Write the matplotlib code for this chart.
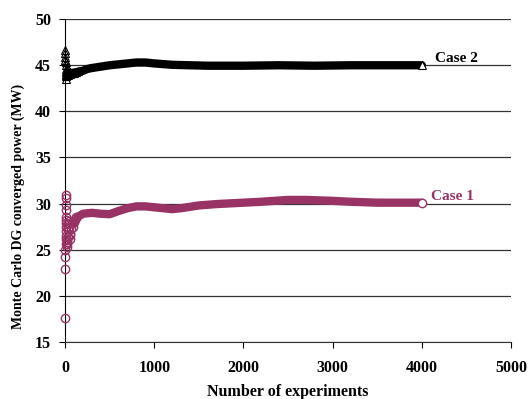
import matplotlib
matplotlib.use("Agg")
import matplotlib.pyplot as plt

plt.rcParams['font.family'] = ['Liberation Serif', 'DejaVu Serif']
plt.rcParams['font.weight'] = 'bold'

PLUM = '#993366'

# Case 1: scattered early estimates, then the converging band
c1_early_x = [1, 2, 3, 4, 5, 6, 7, 8, 9, 10, 11, 12, 13, 14, 15, 16, 18, 20, 22, 25,
              28, 30, 35, 40, 45, 50, 55, 60, 70, 80, 90, 100, 110, 120]
c1_early_y = [17.6, 22.9, 24.2, 25.0, 25.6, 26.2, 30.9, 30.6, 29.8, 29.3, 28.6, 28.2,
              27.9, 27.5, 27.0, 26.5, 26.0, 25.6, 25.3, 25.8, 26.4, 27.2, 27.8, 28.1,
              27.4, 26.7, 26.2, 26.6, 27.3, 27.9, 27.5, 28.0, 28.3, 28.6]
c1_band_x = [100, 150, 200, 300, 400, 500, 600, 700, 800, 900, 1000, 1100, 1200, 1300,
             1500, 1700, 2000, 2200, 2500, 2700, 3000, 3200, 3500, 3700, 4000]
c1_band_y = [27.8, 28.6, 28.9, 29.0, 28.9, 28.85, 29.2, 29.5, 29.7, 29.7, 29.6, 29.5,
             29.4, 29.5, 29.8, 29.95, 30.1, 30.2, 30.4, 30.4, 30.3, 30.2, 30.1, 30.1, 30.1]

# Case 2
c2_early_x = [1, 2, 3, 4, 5, 6, 7, 8, 9, 10, 12, 14, 16, 18, 20, 25, 30, 40, 50, 60,
              80, 100, 120, 150]
c2_early_y = [46.7, 46.3, 45.9, 45.6, 45.3, 45.0, 44.6, 44.3, 43.9, 43.5, 43.8, 44.0,
              44.4, 44.1, 44.6, 44.2, 43.9, 44.1, 44.3, 44.0, 44.2, 44.2, 44.3, 44.4]
c2_band_x = [20, 100, 150, 200, 250, 300, 400, 500, 600, 700, 800, 900, 1000, 1200,
             1400, 1600, 1800, 2000, 2400, 2800, 3200, 3600, 4000]
c2_band_y = [44.1, 44.2, 44.3, 44.4, 44.6, 44.7, 44.85, 45.0, 45.1, 45.2, 45.3, 45.3,
             45.2, 45.05, 45.0, 44.95, 44.95, 44.95, 45.0, 44.95, 45.0, 45.0, 45.0]

fig = plt.figure(figsize=(5.29, 3.99), dpi=100)
ax = fig.add_axes([0.123, 0.143, 0.843, 0.809])

# bands (dense overlapping markers in the original)
ax.plot(c1_band_x, c1_band_y, color=PLUM, lw=6.0, solid_capstyle='round', zorder=3)
ax.plot(c2_band_x, c2_band_y, color='black', lw=6.0, solid_capstyle='round', zorder=3)

# early scattered estimates
ax.plot(c1_early_x, c1_early_y, 'o', ms=6, mfc='none', mec=PLUM, mew=1.0,
        clip_on=False, zorder=4)
ax.plot(c2_early_x, c2_early_y, '^', ms=6, mfc='none', mec='black', mew=0.8,
        clip_on=False, zorder=4)

# final points
ax.plot(c1_band_x[-1], c1_band_y[-1], 'o', ms=6, mfc='white', mec=PLUM, mew=1.0, zorder=5)
ax.plot(c2_band_x[-1], c2_band_y[-1], '^', ms=6, mfc='white', mec='black', mew=0.8, zorder=5)

ax.text(4150, 45.05, 'Case 2', fontsize=11, fontweight='bold', color='black',
        ha='left', va='bottom')
ax.text(4100, 30.05, 'Case 1', fontsize=11, fontweight='bold', color=PLUM,
        ha='left', va='bottom')

ax.set_xlim(0, 5000)
ax.set_ylim(15, 50)
ax.set_xticks([0, 1000, 2000, 3000, 4000, 5000])
ax.set_yticks([15, 20, 25, 30, 35, 40, 45, 50])
ax.yaxis.grid(True, color='#333333', lw=0.9)
ax.set_axisbelow(True)
for s in ['top', 'right']:
    ax.spines[s].set_visible(False)
ax.spines['left'].set_color('black')
ax.spines['bottom'].set_color('#333333')
ax.tick_params(axis='both', labelsize=11.5, length=4, width=0.8, direction='out')
ax.tick_params(axis='x', pad=9)
ax.tick_params(axis='y', pad=6)
for lab in ax.get_xticklabels() + ax.get_yticklabels():
    lab.set_fontweight('bold')

ax.set_xlabel('Number of experiments', fontsize=11.5, fontweight='bold')
ax.set_ylabel('Monte Carlo DG converged power (MW)', fontsize=10, fontweight='bold')
ax.xaxis.set_label_coords(0.5, -0.13)
ax.yaxis.set_label_coords(-0.09, 0.42)

fig.savefig('out.png', dpi=100)
